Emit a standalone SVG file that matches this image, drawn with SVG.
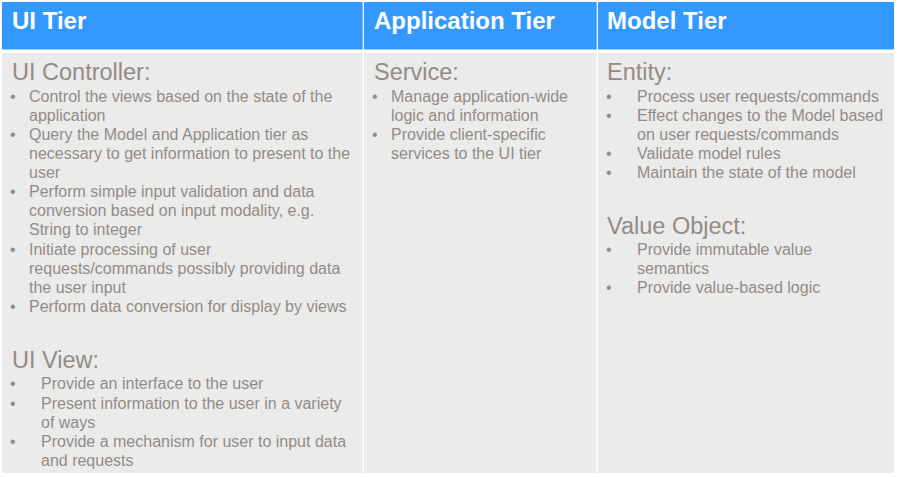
<svg xmlns="http://www.w3.org/2000/svg" width="898" height="477" viewBox="0 0 898 477">
<style>
.hd{fill:#3399FF}
.bd{fill:#EBEBEB}
.ht{font-family:"Liberation Sans",Arial,sans-serif;font-weight:bold;font-size:24px;fill:#FFFFFF}
.st{font-family:"Liberation Sans",Arial,sans-serif;font-size:23.5px;fill:#928B86}
.tx{font-family:"Liberation Sans",Arial,sans-serif;font-size:16px;fill:#928B86}
</style>
<rect x="0" y="0" width="898" height="477" fill="#FFFFFF"/>
<g id="ui-tier">
<rect class="hd" x="2" y="2" width="360.7" height="47.5"/>
<text class="ht" x="12" y="29">UI Tier</text>
<rect class="bd" x="2" y="53" width="360.7" height="420"/>
<text class="st" x="12" y="80">UI Controller:</text>
<g class="tx" transform="translate(0,1)">
<text x="10" y="101">•</text><text x="29" y="101">Control the views based on the state of the</text>
<text x="29" y="120">application</text>
<text x="10" y="139">•</text><text x="29" y="139">Query the Model and Application tier as</text>
<text x="29" y="158">necessary to get information to present to the</text>
<text x="29" y="177">user</text>
<text x="10" y="196">•</text><text x="29" y="196">Perform simple input validation and data</text>
<text x="29" y="215">conversion based on input modality, e.g.</text>
<text x="29" y="234">String to integer</text>
<text x="10" y="254">•</text><text x="29" y="254">Initiate processing of user</text>
<text x="29" y="273">requests/commands possibly providing data</text>
<text x="29" y="292">the user input</text>
<text x="10" y="311">•</text><text x="29" y="311">Perform data conversion for display by views</text>
</g>
<text class="st" x="12" y="368">UI View:</text>
<g class="tx" transform="translate(0,1)">
<text x="10" y="388">•</text><text x="41" y="388">Provide an interface to the user</text>
<text x="10" y="408">•</text><text x="41" y="408">Present information to the user in a variety</text>
<text x="41" y="427">of ways</text>
<text x="10" y="446">•</text><text x="41" y="446">Provide a mechanism for user to input data</text>
<text x="41" y="465">and requests</text>
</g>
</g>
<g id="application-tier">
<rect class="hd" x="364" y="2" width="232.7" height="47.5"/>
<text class="ht" x="374" y="29">Application Tier</text>
<rect class="bd" x="364" y="53" width="232.7" height="420"/>
<text class="st" x="374" y="80">Service:</text>
<g class="tx" transform="translate(0,1)">
<text x="372" y="101">•</text><text x="391" y="101">Manage application-wide</text>
<text x="391" y="120">logic and information</text>
<text x="372" y="139">•</text><text x="391" y="139">Provide client-specific</text>
<text x="391" y="158">services to the UI tier</text>
</g>
</g>
<g id="model-tier">
<rect class="hd" x="598" y="2" width="296" height="47.5"/>
<text class="ht" x="607" y="29">Model Tier</text>
<rect class="bd" x="598" y="53" width="296" height="420"/>
<text class="st" x="607" y="80">Entity:</text>
<g class="tx" transform="translate(0,1)">
<text x="606" y="101">•</text><text x="637" y="101">Process user requests/commands</text>
<text x="606" y="120">•</text><text x="637" y="120">Effect changes to the Model based</text>
<text x="637" y="139">on user requests/commands</text>
<text x="606" y="158">•</text><text x="637" y="158">Validate model rules</text>
<text x="606" y="177">•</text><text x="637" y="177">Maintain the state of the model</text>
</g>
<text class="st" x="607" y="234">Value Object:</text>
<g class="tx" transform="translate(0,1)">
<text x="606" y="254">•</text><text x="637" y="254">Provide immutable value</text>
<text x="637" y="273">semantics</text>
<text x="606" y="292">•</text><text x="637" y="292">Provide value-based logic</text>
</g>
</g>
<g id="connectors"/>
</svg>
